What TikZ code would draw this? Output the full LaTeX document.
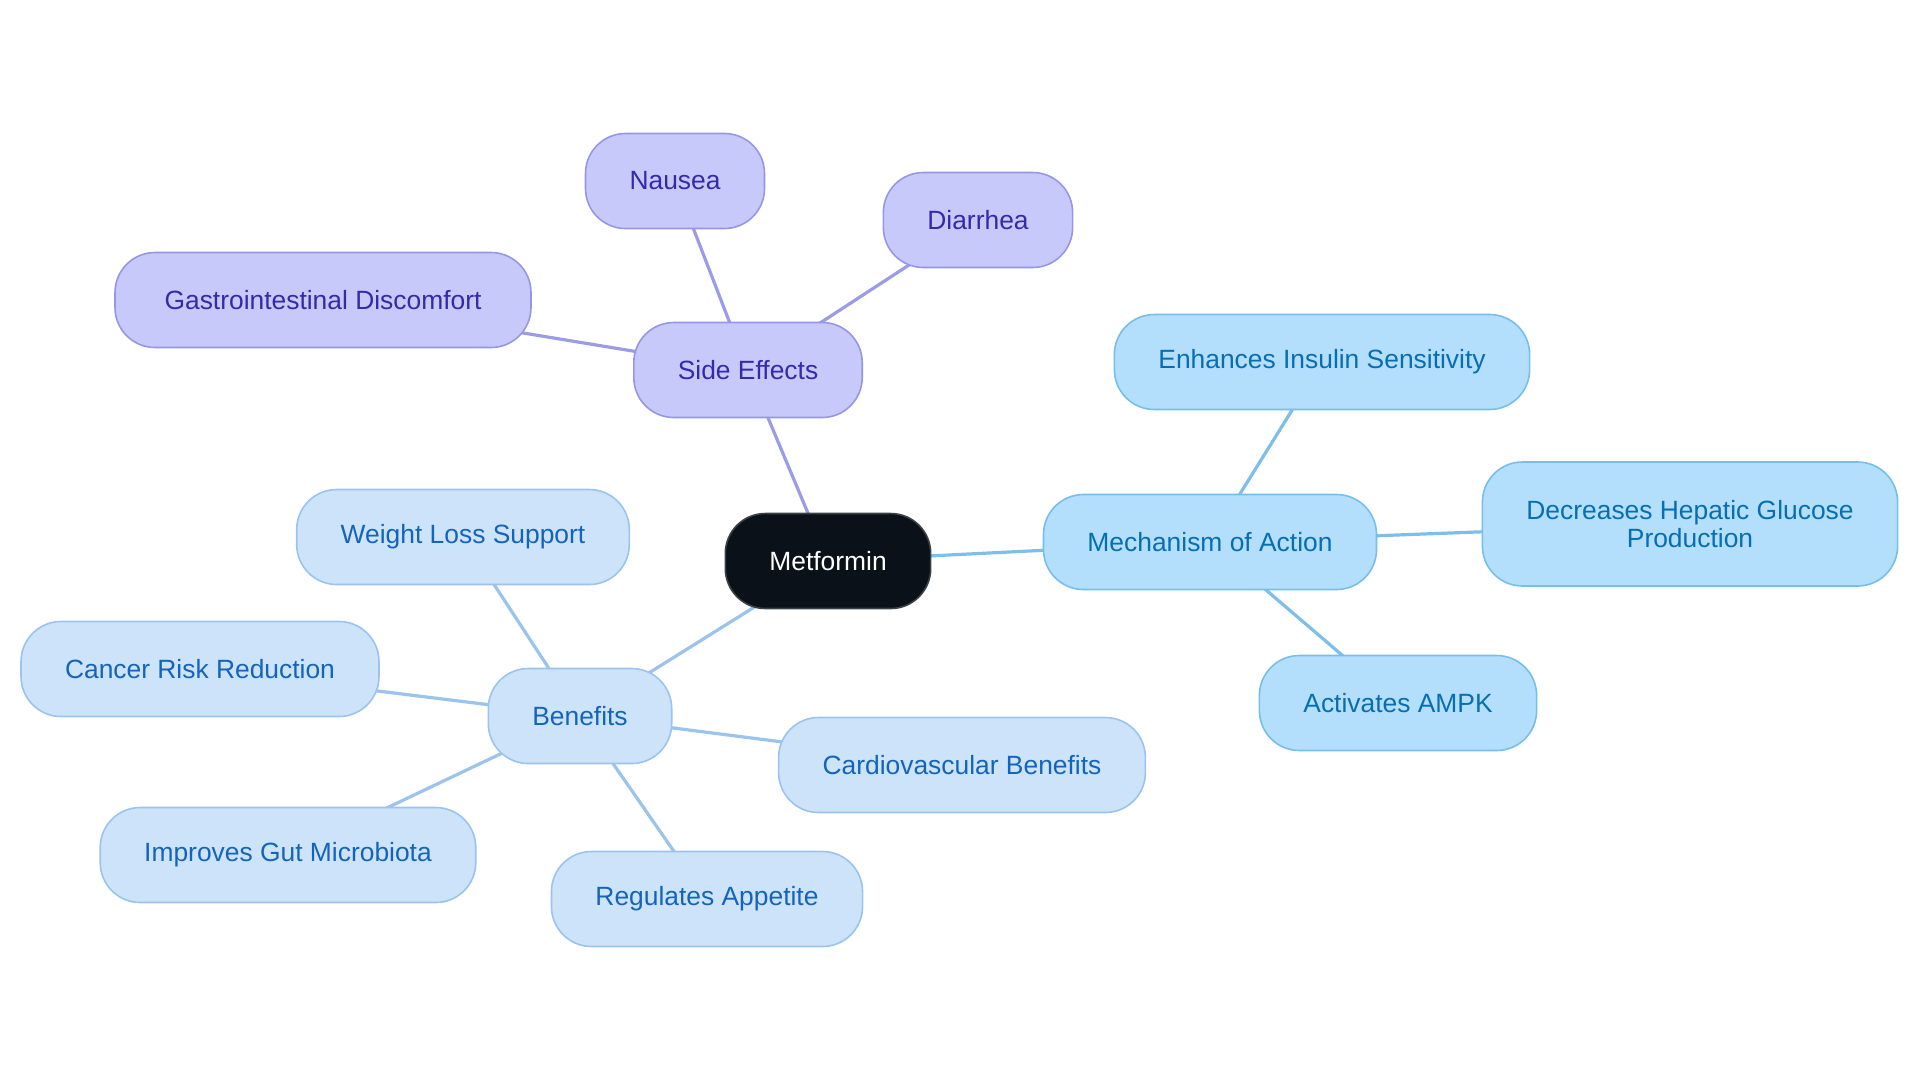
\documentclass[tikz,border=0pt]{standalone}
\usepackage{fontspec}
\setmainfont{Liberation Sans}
\usetikzlibrary{backgrounds}

\definecolor{corefill}{RGB}{11,17,24}
\definecolor{sefill}{RGB}{199,201,251}
\definecolor{seborder}{RGB}{150,150,230}
\definecolor{setext}{RGB}{52,42,170}
\definecolor{seline}{RGB}{155,155,230}
\definecolor{mafill}{RGB}{179,222,252}
\definecolor{maborder}{RGB}{120,190,235}
\definecolor{matext}{RGB}{8,110,180}
\definecolor{maline}{RGB}{125,190,235}
\definecolor{befill}{RGB}{204,227,250}
\definecolor{beborder}{RGB}{155,195,238}
\definecolor{betext}{RGB}{20,100,190}
\definecolor{beline}{RGB}{155,195,236}

\tikzset{
    pill/.style={rectangle, rounded corners=20pt, line width=0.8pt, inner xsep=22pt,
        minimum height=47.5pt, font=\fontsize{13.2}{14}\selectfont, align=center},
    corenode/.style={pill, fill=corefill, draw=corefill!80!white, text=white},
    sidenode/.style={pill, fill=sefill, draw=seborder, text=setext},
    mechnode/.style={pill, fill=mafill, draw=maborder, text=matext},
    benenode/.style={pill, fill=befill, draw=beborder, text=betext},
    link/.style={line width=1.6pt}
}

\begin{document}
\begin{tikzpicture}[x=0.5pt, y=-0.5pt]
    \useasboundingbox (0,0) rectangle (1920,1083);

    % Centre
    \node[corenode] (metformin) at (828,561) {Metformin};

    % Side effects branch
    \node[sidenode] (side) at (748,370) {Side Effects};
    \node[sidenode] (nausea) at (675,181) {Nausea};
    \node[sidenode] (diarrhea) at (978,220) {Diarrhea};
    \node[sidenode, minimum width=208pt] (gastro) at (323,300) {Gastrointestinal Discomfort};

    % Mechanism branch
    \node[mechnode] (mech) at (1210,542) {Mechanism of Action};
    \node[mechnode] (insulin) at (1322,362) {Enhances Insulin Sensitivity};
    \node[mechnode, minimum height=62pt] (hepatic) at (1690,524) {Decreases Hepatic Glucose\\Production};
    \node[mechnode] (ampk) at (1398,703) {Activates AMPK};

    % Benefits branch
    \node[benenode] (benefits) at (580,716) {Benefits};
    \node[benenode] (weight) at (463,537) {Weight Loss Support};
    \node[benenode] (cancer) at (200,669) {Cancer Risk Reduction};
    \node[benenode] (cardio) at (962,765) {Cardiovascular Benefits};
    \node[benenode] (gut) at (288,855) {Improves Gut Microbiota};
    \node[benenode] (appetite) at (707,899) {Regulates Appetite};

    % Connectors behind the nodes
    \begin{scope}[on background layer]
        \foreach \a/\b in {metformin/side, side/nausea, side/diarrhea, side/gastro} {
            \draw[link, seline] (\a.center) -- (\b.center);
        }
        \foreach \a/\b in {metformin/mech, mech/insulin, mech/hepatic, mech/ampk} {
            \draw[link, maline] (\a.center) -- (\b.center);
        }
        \foreach \a/\b in {metformin/benefits, benefits/weight, benefits/cancer, benefits/cardio, benefits/gut, benefits/appetite} {
            \draw[link, beline] (\a.center) -- (\b.center);
        }
    \end{scope}
\end{tikzpicture}
\end{document}
